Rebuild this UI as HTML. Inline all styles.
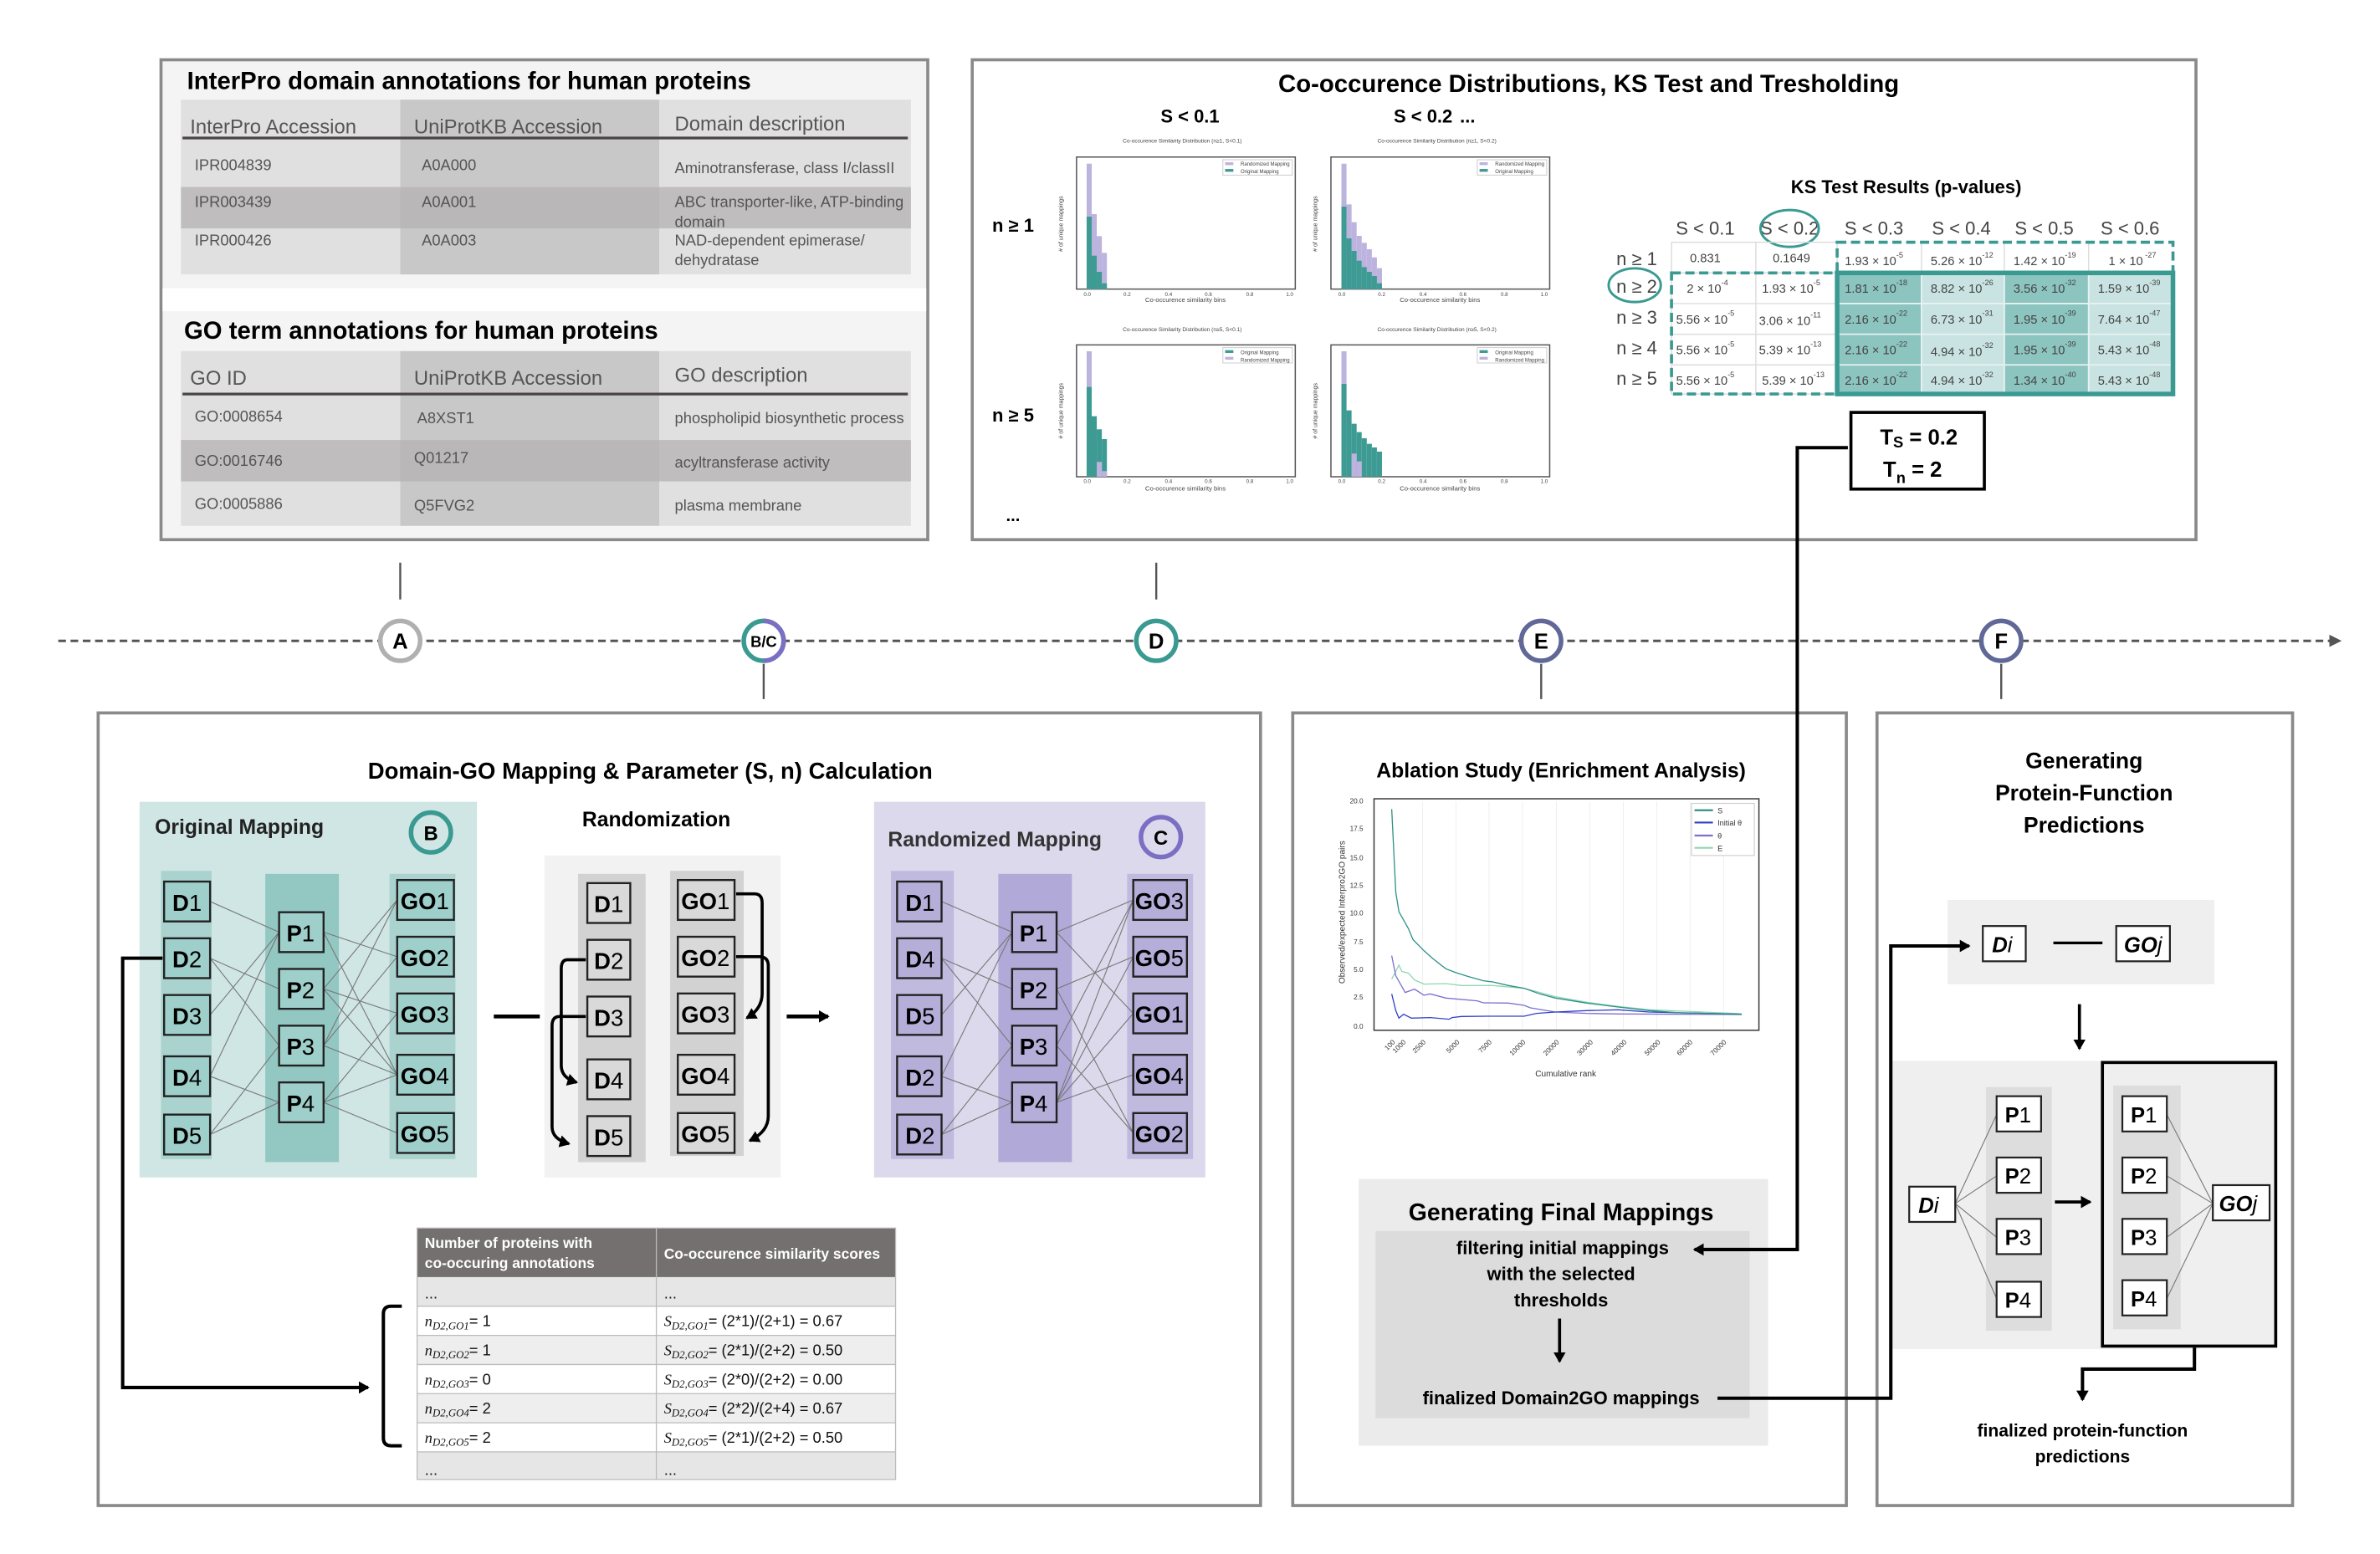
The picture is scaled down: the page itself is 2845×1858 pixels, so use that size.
<!DOCTYPE html>
<html><head><meta charset="utf-8"><style>
html,body{margin:0;padding:0;background:#fff;}
svg{display:block;}
text{font-family:"Liberation Sans",sans-serif;}
.b{font-weight:bold;}
.dv{font-family:"DejaVu Sans","Liberation Sans",sans-serif;}
</style></head><body>
<svg width="2845" height="1858" viewBox="0 0 1552 1013.6" preserveAspectRatio="none" xmlns="http://www.w3.org/2000/svg">
<defs>
<marker id="ah" markerWidth="8" markerHeight="8" refX="6" refY="4" orient="auto" markerUnits="userSpaceOnUse"><path d="M0,0 L7,4 L0,8 Z" fill="#000"/></marker>
</defs>
<rect width="1552" height="1014" fill="#fff"/>

<!-- ===== Panel A ===== -->
<rect x="105" y="39" width="500" height="313" fill="#f4f4f4" stroke="#8a8a8a" stroke-width="2"/>
<rect x="106" y="188" width="498" height="15" fill="#fff"/>
<text x="122" y="58" font-size="16" class="b">InterPro domain annotations for human proteins</text>
<rect x="118" y="65" width="143" height="114" fill="#e0e0e0"/>
<rect x="261" y="65" width="169" height="114" fill="#c9c8c9"/>
<rect x="430" y="65" width="164" height="114" fill="#e0e0e0"/>
<rect x="118" y="122" width="476" height="27" fill="#b4b2b2" opacity="0.75"/>
<line x1="119" y1="90" x2="592" y2="90" stroke="#4a4444" stroke-width="1.8"/>
<g fill="#555" font-size="13">
<text x="124" y="87">InterPro Accession</text><text x="270" y="87">UniProtKB Accession</text><text x="440" y="85">Domain description</text></g>
<g fill="#555" font-size="10">
<text x="127" y="111">IPR004839</text><text x="275" y="111">A0A000</text><text x="440" y="113">Aminotransferase, class I/classII</text>
<text x="127" y="135">IPR003439</text><text x="275" y="135">A0A001</text><text x="440" y="135">ABC transporter-like, ATP-binding</text><text x="440" y="148">domain</text>
<text x="127" y="160">IPR000426</text><text x="275" y="160">A0A003</text><text x="440" y="160">NAD-dependent epimerase/</text><text x="440" y="173">dehydratase</text></g>

<text x="120" y="221" font-size="16" class="b">GO term annotations for human proteins</text>
<rect x="118" y="229" width="143" height="114" fill="#e0e0e0"/>
<rect x="261" y="229" width="169" height="114" fill="#c9c8c9"/>
<rect x="430" y="229" width="164" height="114" fill="#e0e0e0"/>
<rect x="118" y="287" width="476" height="27" fill="#b4b2b2" opacity="0.75"/>
<line x1="119" y1="257" x2="592" y2="257" stroke="#4a4444" stroke-width="1.8"/>
<g fill="#555" font-size="13">
<text x="124" y="251">GO ID</text><text x="270" y="251">UniProtKB Accession</text><text x="440" y="249">GO description</text></g>
<g fill="#555" font-size="10">
<text x="127" y="275">GO:0008654</text><text x="272" y="276">A8XST1</text><text x="440" y="276">phospholipid biosynthetic process</text>
<text x="127" y="304">GO:0016746</text><text x="270" y="302">Q01217</text><text x="440" y="305">acyltransferase activity</text>
<text x="127" y="332">GO:0005886</text><text x="270" y="333">Q5FVG2</text><text x="440" y="333">plasma membrane</text></g>

<!-- ===== Panel D ===== -->
<rect x="634" y="39" width="798" height="313" fill="#fff" stroke="#8a8a8a" stroke-width="2"/>
<text x="1036" y="60" font-size="16" class="b" text-anchor="middle">Co-occurence Distributions, KS Test and Tresholding</text>
<text x="776" y="80" font-size="12" class="b" text-anchor="middle">S &lt; 0.1</text>
<text x="928" y="80" font-size="12" class="b" text-anchor="middle">S &lt; 0.2</text>
<text x="957" y="80" font-size="12" class="b" text-anchor="middle">...</text>
<text x="647" y="151" font-size="12" class="b">n ≥ 1</text>
<text x="647" y="275" font-size="12" class="b">n ≥ 5</text>
<text x="656" y="340" font-size="11" class="b">...</text>

<g transform="translate(644,65.5) scale(0.2447,0.1818)">
 <g fill="#fff" stroke="#555" stroke-width="1.5">
 <rect x="237" y="203" width="583" height="474" vector-effect="non-scaling-stroke"/>
 <rect x="915" y="203" width="583" height="474" vector-effect="non-scaling-stroke"/>
 <rect x="237" y="877" width="583" height="473" vector-effect="non-scaling-stroke"/>
 <rect x="915" y="877" width="583" height="473" vector-effect="non-scaling-stroke"/></g>
 <g fill="#bcb3de"><rect x="264" y="227" width="13.5" height="450"/><rect x="277.5" y="408" width="13.5" height="269"/><rect x="291" y="487" width="13.5" height="190"/><rect x="304.5" y="547" width="13.5" height="130"/></g>
 <g fill="#3e9b94"><rect x="264" y="417" width="13.5" height="260"/><rect x="277.5" y="557" width="13.5" height="120"/><rect x="291" y="615" width="13.5" height="62"/><rect x="304.5" y="656" width="13.5" height="21"/></g>
 <g fill="#bcb3de"><rect x="943" y="227" width="13.5" height="450"/><rect x="956.5" y="373" width="13.5" height="304"/><rect x="970" y="437" width="13.5" height="240"/><rect x="983.5" y="486" width="13.5" height="191"/><rect x="997" y="511" width="13.5" height="166"/><rect x="1010.5" y="534" width="13.5" height="143"/><rect x="1024" y="563" width="13.5" height="114"/><rect x="1037.5" y="602" width="13.5" height="75"/></g>
 <g fill="#3e9b94"><rect x="943" y="381" width="13.5" height="296"/><rect x="956.5" y="495" width="13.5" height="182"/><rect x="970" y="540" width="13.5" height="137"/><rect x="983.5" y="575" width="13.5" height="102"/><rect x="997" y="598" width="13.5" height="79"/><rect x="1010.5" y="615" width="13.5" height="62"/><rect x="1024" y="630" width="13.5" height="47"/><rect x="1037.5" y="656" width="13.5" height="21"/></g>
 <rect x="264" y="900" width="13.5" height="450" fill="#bcb3de"/>
 <g fill="#3e9b94"><rect x="264" y="1028" width="13.5" height="322"/><rect x="277.5" y="1133" width="13.5" height="217"/><rect x="291" y="1180" width="13.5" height="170"/><rect x="304.5" y="1215" width="13.5" height="135"/></g>
 <g fill="#bcb3de"><rect x="291" y="1297" width="13.5" height="53"/><rect x="304.5" y="1330" width="13.5" height="20"/></g>
 <rect x="943" y="900" width="13.5" height="450" fill="#bcb3de"/>
 <g fill="#3e9b94"><rect x="943" y="1017" width="13.5" height="333"/><rect x="956.5" y="1112" width="13.5" height="238"/><rect x="970" y="1160" width="13.5" height="190"/><rect x="983.5" y="1190" width="13.5" height="160"/><rect x="997" y="1212" width="13.5" height="138"/><rect x="1010.5" y="1232" width="13.5" height="118"/><rect x="1024" y="1245" width="13.5" height="105"/><rect x="1037.5" y="1260" width="13.5" height="90"/></g>
 <g fill="#bcb3de"><rect x="970" y="1267" width="13.5" height="83"/><rect x="983.5" y="1295" width="13.5" height="55"/></g>
 <g fill="#fff" stroke="#ccc" stroke-width="1">
 <rect x="627" y="213" width="185" height="55" vector-effect="non-scaling-stroke"/><rect x="1305" y="213" width="185" height="55" vector-effect="non-scaling-stroke"/>
 <rect x="627" y="887" width="185" height="55" vector-effect="non-scaling-stroke"/><rect x="1305" y="887" width="185" height="55" vector-effect="non-scaling-stroke"/></g>
 <g><rect x="633" y="222" width="22" height="10" fill="#bcb3de"/><rect x="633" y="246" width="22" height="10" fill="#3e9b94"/>
 <rect x="1311" y="222" width="22" height="10" fill="#bcb3de"/><rect x="1311" y="246" width="22" height="10" fill="#3e9b94"/>
 <rect x="633" y="896" width="22" height="10" fill="#3e9b94"/><rect x="633" y="920" width="22" height="10" fill="#bcb3de"/>
 <rect x="1311" y="896" width="22" height="10" fill="#3e9b94"/><rect x="1311" y="920" width="22" height="10" fill="#bcb3de"/></g>
</g>
<g font-size="3.6" fill="#444" text-anchor="middle">
<text x="771" y="93">Co-occurence Similarity Distribution (n≥1, S&lt;0.1)</text>
<text x="937" y="93">Co-occurence Similarity Distribution (n≥1, S&lt;0.2)</text>
<text x="771" y="216">Co-occurence Similarity Distribution (n≥5, S&lt;0.1)</text>
<text x="937" y="216">Co-occurence Similarity Distribution (n≥5, S&lt;0.2)</text>
<text x="773" y="197" font-size="4.2">Co-occurence similarity bins</text>
<text x="939" y="197" font-size="4.2">Co-occurence similarity bins</text>
<text x="773" y="320" font-size="4.2">Co-occurence similarity bins</text>
<text x="939" y="320" font-size="4.2">Co-occurence similarity bins</text>
<g font-size="3.4">
<text x="709" y="193">0.0</text><text x="735" y="193">0.2</text><text x="762" y="193">0.4</text><text x="788" y="193">0.6</text><text x="815" y="193">0.8</text><text x="841" y="193">1.0</text>
<text x="875" y="193">0.0</text><text x="901" y="193">0.2</text><text x="928" y="193">0.4</text><text x="954" y="193">0.6</text><text x="981" y="193">0.8</text><text x="1007" y="193">1.0</text>
<text x="709" y="315">0.0</text><text x="735" y="315">0.2</text><text x="762" y="315">0.4</text><text x="788" y="315">0.6</text><text x="815" y="315">0.8</text><text x="841" y="315">1.0</text>
<text x="875" y="315">0.0</text><text x="901" y="315">0.2</text><text x="928" y="315">0.4</text><text x="954" y="315">0.6</text><text x="981" y="315">0.8</text><text x="1007" y="315">1.0</text></g>
</g>
<g font-size="3.3" fill="#444">
<text x="809" y="108">Randomized Mapping</text><text x="809" y="113">Original Mapping</text>
<text x="975" y="108">Randomized Mapping</text><text x="975" y="113">Original Mapping</text>
<text x="809" y="231">Original Mapping</text><text x="809" y="236">Randomized Mapping</text>
<text x="975" y="231">Original Mapping</text><text x="975" y="236">Randomized Mapping</text></g>
<g font-size="3.8" fill="#444">
<text transform="translate(693,146) rotate(-90)" text-anchor="middle"># of unique mappings</text>
<text transform="translate(859,146) rotate(-90)" text-anchor="middle"># of unique mappings</text>
<text transform="translate(693,268) rotate(-90)" text-anchor="middle"># of unique mappings</text>
<text transform="translate(859,268) rotate(-90)" text-anchor="middle"># of unique mappings</text></g>

<!-- KS table -->
<text x="1243" y="126" font-size="12" class="b" text-anchor="middle">KS Test Results (p-values)</text>
<g font-size="12" fill="#444" text-anchor="middle">
<text x="1112" y="153">S &lt; 0.1</text><text x="1167" y="153">S &lt; 0.2</text><text x="1222" y="153">S &lt; 0.3</text><text x="1279" y="153">S &lt; 0.4</text><text x="1333" y="153">S &lt; 0.5</text><text x="1389" y="153">S &lt; 0.6</text></g>
<g font-size="12" fill="#444">
<text x="1054" y="173">n ≥ 1</text><text x="1054" y="191">n ≥ 2</text><text x="1054" y="211">n ≥ 3</text><text x="1054" y="231">n ≥ 4</text><text x="1054" y="251">n ≥ 5</text></g>
<ellipse cx="1167" cy="149" rx="19" ry="12" fill="none" stroke="#3a9a92" stroke-width="1.6"/>
<ellipse cx="1066" cy="186" rx="17" ry="11" fill="none" stroke="#3a9a92" stroke-width="1.6"/>
<g stroke="#ddd" stroke-width="0.8" fill="none">
<rect x="1090" y="158" width="108" height="99"/>
<line x1="1145" y1="158" x2="1145" y2="257"/>
<line x1="1090" y1="178" x2="1198" y2="178"/><line x1="1090" y1="198" x2="1198" y2="198"/><line x1="1090" y1="218" x2="1198" y2="218"/><line x1="1090" y1="238" x2="1198" y2="238"/>
<line x1="1253" y1="158" x2="1253" y2="178"/><line x1="1307" y1="158" x2="1307" y2="178"/><line x1="1362" y1="158" x2="1362" y2="178"/></g>
<rect x="1198" y="178" width="55" height="79" fill="#8cc4bf"/>
<rect x="1253" y="178" width="54" height="79" fill="#c8e3e1"/>
<rect x="1307" y="178" width="55" height="79" fill="#8cc4bf"/>
<rect x="1362" y="178" width="55" height="79" fill="#c8e3e1"/>
<g stroke="#e8f2f1" stroke-width="1"><line x1="1198" y1="198" x2="1417" y2="198"/><line x1="1198" y1="218" x2="1417" y2="218"/><line x1="1198" y1="238" x2="1417" y2="238"/>
<line x1="1253" y1="178" x2="1253" y2="257"/><line x1="1307" y1="178" x2="1307" y2="257"/><line x1="1362" y1="178" x2="1362" y2="257"/></g>
<rect x="1198" y="178" width="219" height="79" fill="none" stroke="#3a9a92" stroke-width="3"/>
<rect x="1198" y="158" width="219" height="20" fill="none" stroke="#3a9a92" stroke-width="2" stroke-dasharray="6,3"/>
<rect x="1090" y="178" width="108" height="79" fill="none" stroke="#3a9a92" stroke-width="2" stroke-dasharray="6,3"/>
<g font-size="8" fill="#444">
<text x="1102" y="171">0.831</text><text x="1156" y="171">0.1649</text>
<text x="1203" y="173">1.93 × 10<tspan dy="-5" font-size="5">-5</tspan></text>
<text x="1259" y="173">5.26 × 10<tspan dy="-5" font-size="5">-12</tspan></text>
<text x="1313" y="173">1.42 × 10<tspan dy="-5" font-size="5">-19</tspan></text>
<text x="1375" y="173">1 × 10<tspan dy="-5" font-size="5">  -27</tspan></text>
<text x="1100" y="191">2 × 10<tspan dy="-5" font-size="5">-4</tspan></text>
<text x="1149" y="191">1.93 × 10<tspan dy="-5" font-size="5">-5</tspan></text>
<text x="1203" y="191">1.81 × 10<tspan dy="-5" font-size="5">-18</tspan></text>
<text x="1259" y="191">8.82 × 10<tspan dy="-5" font-size="5">-26</tspan></text>
<text x="1313" y="191">3.56 × 10<tspan dy="-5" font-size="5">-32</tspan></text>
<text x="1368" y="191">1.59 × 10<tspan dy="-5" font-size="5">-39</tspan></text>
<text x="1093" y="211">5.56 × 10<tspan dy="-5" font-size="5">-5</tspan></text>
<text x="1147" y="212">3.06 × 10<tspan dy="-5" font-size="5">-11</tspan></text>
<text x="1203" y="211">2.16 × 10<tspan dy="-5" font-size="5">-22</tspan></text>
<text x="1259" y="211">6.73 × 10<tspan dy="-5" font-size="5">-31</tspan></text>
<text x="1313" y="211">1.95 × 10<tspan dy="-5" font-size="5">-39</tspan></text>
<text x="1368" y="211">7.64 × 10<tspan dy="-5" font-size="5">-47</tspan></text>
<text x="1093" y="231">5.56 × 10<tspan dy="-5" font-size="5">-5</tspan></text>
<text x="1147" y="231">5.39 × 10<tspan dy="-5" font-size="5">-13</tspan></text>
<text x="1203" y="231">2.16 × 10<tspan dy="-5" font-size="5">-22</tspan></text>
<text x="1259" y="232">4.94 × 10<tspan dy="-5" font-size="5">-32</tspan></text>
<text x="1313" y="231">1.95 × 10<tspan dy="-5" font-size="5">-39</tspan></text>
<text x="1368" y="231">5.43 × 10<tspan dy="-5" font-size="5">-48</tspan></text>
<text x="1093" y="251">5.56 × 10<tspan dy="-5" font-size="5">-5</tspan></text>
<text x="1149" y="251">5.39 × 10<tspan dy="-5" font-size="5">-13</tspan></text>
<text x="1203" y="251">2.16 × 10<tspan dy="-5" font-size="5">-22</tspan></text>
<text x="1259" y="251">4.94 × 10<tspan dy="-5" font-size="5">-32</tspan></text>
<text x="1313" y="251">1.34 × 10<tspan dy="-5" font-size="5">-40</tspan></text>
<text x="1368" y="251">5.43 × 10<tspan dy="-5" font-size="5">-48</tspan></text></g>
<rect x="1207" y="269" width="87" height="50" fill="#fff" stroke="#000" stroke-width="2"/>
<text x="1226" y="290" font-size="14" class="b">T<tspan font-size="10" dy="2">S</tspan><tspan dy="-2"> = 0.2</tspan></text>
<text x="1228" y="311" font-size="14" class="b">T<tspan font-size="10" dy="4">n</tspan><tspan dy="-4"> = 2</tspan></text>

<!-- ===== Timeline ===== -->
<line x1="38" y1="418" x2="1520" y2="418" stroke="#555" stroke-width="1.6" stroke-dasharray="5,3"/>
<path d="M1519,414 L1527,418 L1519,422 Z" fill="#555"/>
<g stroke="#555" stroke-width="1.3">
<line x1="261" y1="367" x2="261" y2="391"/><line x1="754" y1="367" x2="754" y2="391"/>
<line x1="498" y1="433" x2="498" y2="456"/><line x1="1005" y1="433" x2="1005" y2="456"/><line x1="1305" y1="433" x2="1305" y2="456"/></g>
<g stroke-width="3" fill="#fff">
<circle cx="261" cy="418" r="13" stroke="#b0b0b0"/>
<circle cx="754" cy="418" r="13" stroke="#3a9a92"/>
<circle cx="1005" cy="418" r="13" stroke="#5f6897"/>
<circle cx="1305" cy="418" r="13" stroke="#5f6897"/>
<circle cx="498" cy="418" r="13" stroke="#3a9a92"/>
<path d="M498,405 A13,13 0 0 1 498,431" fill="none" stroke="#7b6fc4"/></g>
<g font-size="14" class="b" text-anchor="middle">
<text x="261" y="423">A</text><text x="754" y="423">D</text><text x="1005" y="423">E</text><text x="1305" y="423">F</text>
<text x="498" y="422" font-size="10">B/C</text></g>

<!-- ===== Panel B/C ===== -->
<rect x="64" y="465" width="758" height="517" fill="#fff" stroke="#8a8a8a" stroke-width="2"/>
<text x="424" y="508" font-size="15" class="b" text-anchor="middle">Domain-GO Mapping &amp; Parameter (S, n) Calculation</text>
<rect x="91" y="523" width="220" height="245" fill="#cfe6e4"/>
<rect x="105" y="568" width="33" height="188" fill="#aad3cf"/>
<rect x="173" y="570" width="48" height="188" fill="#93c7c2"/>
<rect x="254" y="570" width="43" height="186" fill="#aad3cf"/>
<text x="101" y="544" font-size="13.5" class="b" fill="#222">Original Mapping</text>
<circle cx="281" cy="543" r="13" fill="none" stroke="#3a9a92" stroke-width="3"/>
<text x="281" y="548" font-size="13" class="b" text-anchor="middle">B</text>
<g stroke="#777" stroke-width="0.6">
<line x1="137" y1="588" x2="182" y2="608"/><line x1="137" y1="625" x2="182" y2="645"/><line x1="137" y1="625" x2="182" y2="682"/>
<line x1="137" y1="662" x2="182" y2="608"/><line x1="137" y1="702" x2="182" y2="608"/><line x1="137" y1="702" x2="182" y2="719"/>
<line x1="137" y1="740" x2="182" y2="682"/><line x1="137" y1="740" x2="182" y2="719"/>
<line x1="211" y1="608" x2="259" y2="624"/><line x1="211" y1="608" x2="259" y2="701"/><line x1="211" y1="645" x2="259" y2="587"/>
<line x1="211" y1="645" x2="259" y2="661"/><line x1="211" y1="645" x2="259" y2="701"/><line x1="211" y1="682" x2="259" y2="587"/>
<line x1="211" y1="682" x2="259" y2="701"/><line x1="211" y1="682" x2="259" y2="624"/><line x1="211" y1="719" x2="259" y2="661"/>
<line x1="211" y1="719" x2="259" y2="701"/><line x1="211" y1="719" x2="259" y2="739"/></g>
<g fill="#9fcfca" stroke="#222" stroke-width="1.3">
<rect x="107" y="575" width="30" height="26"/><rect x="107" y="612" width="30" height="26"/><rect x="107" y="649" width="30" height="26"/><rect x="107" y="689" width="30" height="26"/><rect x="107" y="727" width="30" height="26"/>
<rect x="182" y="595" width="29" height="26"/><rect x="182" y="632" width="29" height="26"/><rect x="182" y="669" width="29" height="26"/><rect x="182" y="706" width="29" height="26"/>
<rect x="259" y="574" width="37" height="26"/><rect x="259" y="611" width="37" height="26"/><rect x="259" y="648" width="37" height="26"/><rect x="259" y="688" width="37" height="26"/><rect x="259" y="726" width="37" height="26"/></g>
<g font-size="15" class="b" text-anchor="middle">
<text x="122" y="594">D<tspan font-weight="normal">1</tspan></text><text x="122" y="631">D<tspan font-weight="normal">2</tspan></text><text x="122" y="668">D<tspan font-weight="normal">3</tspan></text><text x="122" y="708">D<tspan font-weight="normal">4</tspan></text><text x="122" y="746">D<tspan font-weight="normal">5</tspan></text>
<text x="196" y="614">P<tspan font-weight="normal">1</tspan></text><text x="196" y="651">P<tspan font-weight="normal">2</tspan></text><text x="196" y="688">P<tspan font-weight="normal">3</tspan></text><text x="196" y="725">P<tspan font-weight="normal">4</tspan></text>
<text x="277" y="593">GO<tspan font-weight="normal">1</tspan></text><text x="277" y="630">GO<tspan font-weight="normal">2</tspan></text><text x="277" y="667">GO<tspan font-weight="normal">3</tspan></text><text x="277" y="707">GO<tspan font-weight="normal">4</tspan></text><text x="277" y="745">GO<tspan font-weight="normal">5</tspan></text></g>

<text x="428" y="539" font-size="13.5" class="b" text-anchor="middle">Randomization</text>
<rect x="355" y="558" width="154" height="210" fill="#f2f2f2"/>
<rect x="377" y="570" width="44" height="188" fill="#d2d2d2"/>
<rect x="437" y="568" width="48" height="186" fill="#d2d2d2"/>
<g fill="#d9d9d9" stroke="#222" stroke-width="1.3">
<rect x="383" y="576" width="28" height="26"/><rect x="383" y="613" width="28" height="26"/><rect x="383" y="650" width="28" height="26"/><rect x="383" y="691" width="28" height="26"/><rect x="383" y="728" width="28" height="26"/>
<rect x="442" y="574" width="37" height="26"/><rect x="442" y="611" width="37" height="26"/><rect x="442" y="648" width="37" height="26"/><rect x="442" y="688" width="37" height="26"/><rect x="442" y="726" width="37" height="26"/></g>
<g font-size="15" class="b" text-anchor="middle">
<text x="397" y="595">D<tspan font-weight="normal">1</tspan></text><text x="397" y="632">D<tspan font-weight="normal">2</tspan></text><text x="397" y="669">D<tspan font-weight="normal">3</tspan></text><text x="397" y="710">D<tspan font-weight="normal">4</tspan></text><text x="397" y="747">D<tspan font-weight="normal">5</tspan></text>
<text x="460" y="593">GO<tspan font-weight="normal">1</tspan></text><text x="460" y="630">GO<tspan font-weight="normal">2</tspan></text><text x="460" y="667">GO<tspan font-weight="normal">3</tspan></text><text x="460" y="707">GO<tspan font-weight="normal">4</tspan></text><text x="460" y="745">GO<tspan font-weight="normal">5</tspan></text></g>
<g fill="none" stroke="#000" stroke-width="2">
<path d="M480,583 H492 Q497,583 497,589 V648 Q497,658 487,664" marker-end="url(#ah)"/>
<path d="M480,624 H495 Q501,624 501,630 V728 Q501,738 489,744" marker-end="url(#ah)"/>
<path d="M382,626 H370 Q366,626 366,632 V695 Q366,703 376,706" marker-end="url(#ah)"/>
<path d="M382,663 H365 Q360,663 360,669 V735 Q360,743 371,746" marker-end="url(#ah)"/></g>
<line x1="322" y1="663" x2="352" y2="663" stroke="#000" stroke-width="2.5"/>
<line x1="513" y1="663" x2="540" y2="663" stroke="#000" stroke-width="2.5" marker-end="url(#ah)"/>

<rect x="570" y="523" width="216" height="245" fill="#dcd9ec"/>
<rect x="581" y="568" width="41" height="188" fill="#c0bade"/>
<rect x="651" y="570" width="48" height="188" fill="#b1aad8"/>
<rect x="735" y="570" width="43" height="186" fill="#c0bade"/>
<text x="579" y="552" font-size="13.5" class="b" fill="#333">Randomized Mapping</text>
<circle cx="757" cy="546" r="13" fill="none" stroke="#7b6fc4" stroke-width="3"/>
<text x="757" y="551" font-size="13" class="b" text-anchor="middle">C</text>
<g stroke="#777" stroke-width="0.6">
<line x1="614" y1="588" x2="660" y2="608"/><line x1="614" y1="625" x2="660" y2="645"/><line x1="614" y1="625" x2="660" y2="682"/>
<line x1="614" y1="662" x2="660" y2="608"/><line x1="614" y1="702" x2="660" y2="608"/><line x1="614" y1="702" x2="660" y2="719"/>
<line x1="614" y1="740" x2="660" y2="682"/><line x1="614" y1="740" x2="660" y2="719"/>
<line x1="689" y1="608" x2="739" y2="587"/><line x1="689" y1="608" x2="739" y2="661"/><line x1="689" y1="645" x2="739" y2="624"/>
<line x1="689" y1="645" x2="739" y2="739"/><line x1="689" y1="682" x2="739" y2="739"/><line x1="689" y1="682" x2="739" y2="587"/>
<line x1="689" y1="719" x2="739" y2="701"/><line x1="689" y1="719" x2="739" y2="661"/><line x1="689" y1="719" x2="739" y2="624"/><line x1="689" y1="719" x2="739" y2="587"/></g>
<g fill="#b5aed9" stroke="#222" stroke-width="1.3">
<rect x="585" y="575" width="29" height="26"/><rect x="585" y="612" width="29" height="26"/><rect x="585" y="649" width="29" height="26"/><rect x="585" y="689" width="29" height="26"/><rect x="585" y="727" width="29" height="26"/>
<rect x="660" y="595" width="29" height="26"/><rect x="660" y="632" width="29" height="26"/><rect x="660" y="669" width="29" height="26"/><rect x="660" y="706" width="29" height="26"/>
<rect x="739" y="574" width="35" height="26"/><rect x="739" y="611" width="35" height="26"/><rect x="739" y="648" width="35" height="26"/><rect x="739" y="688" width="35" height="26"/><rect x="739" y="726" width="35" height="26"/></g>
<g font-size="15" class="b" text-anchor="middle">
<text x="600" y="594">D<tspan font-weight="normal">1</tspan></text><text x="600" y="631">D<tspan font-weight="normal">4</tspan></text><text x="600" y="668">D<tspan font-weight="normal">5</tspan></text><text x="600" y="708">D<tspan font-weight="normal">2</tspan></text><text x="600" y="746">D<tspan font-weight="normal">2</tspan></text>
<text x="674" y="614">P<tspan font-weight="normal">1</tspan></text><text x="674" y="651">P<tspan font-weight="normal">2</tspan></text><text x="674" y="688">P<tspan font-weight="normal">3</tspan></text><text x="674" y="725">P<tspan font-weight="normal">4</tspan></text>
<text x="756" y="593">GO<tspan font-weight="normal">3</tspan></text><text x="756" y="630">GO<tspan font-weight="normal">5</tspan></text><text x="756" y="667">GO<tspan font-weight="normal">1</tspan></text><text x="756" y="707">GO<tspan font-weight="normal">4</tspan></text><text x="756" y="745">GO<tspan font-weight="normal">2</tspan></text></g>

<rect x="272" y="801" width="312" height="32" fill="#757070"/>
<rect x="272" y="833" width="312" height="19" fill="#e6e6e6"/>
<rect x="272" y="852" width="312" height="19" fill="#fff"/>
<rect x="272" y="871" width="312" height="19" fill="#eeeeee"/>
<rect x="272" y="890" width="312" height="19" fill="#fff"/>
<rect x="272" y="909" width="312" height="19" fill="#eeeeee"/>
<rect x="272" y="928" width="312" height="19" fill="#fff"/>
<rect x="272" y="947" width="312" height="18" fill="#e6e6e6"/>
<g stroke="#bbb" stroke-width="0.7" fill="none">
<rect x="272" y="801" width="312" height="164"/><line x1="428" y1="801" x2="428" y2="965"/>
<line x1="272" y1="852" x2="584" y2="852"/><line x1="272" y1="871" x2="584" y2="871"/><line x1="272" y1="890" x2="584" y2="890"/><line x1="272" y1="909" x2="584" y2="909"/><line x1="272" y1="928" x2="584" y2="928"/><line x1="272" y1="947" x2="584" y2="947"/></g>
<g fill="#fff" font-size="9.5" class="b"><text x="277" y="814">Number of proteins with</text><text x="277" y="827">co-occuring annotations</text><text x="433" y="821">Co-occurence similarity scores</text></g>
<g font-size="10" fill="#111">
<text x="277" y="847">...</text><text x="433" y="847">...</text><text x="277" y="962">...</text><text x="433" y="962">...</text>
<text x="277" y="865"><tspan font-family="Liberation Serif" font-style="italic">n<tspan font-size="7" dy="2">D2,GO1</tspan></tspan><tspan dy="-2">= 1</tspan></text>
<text x="277" y="884"><tspan font-family="Liberation Serif" font-style="italic">n<tspan font-size="7" dy="2">D2,GO2</tspan></tspan><tspan dy="-2">= 1</tspan></text>
<text x="277" y="903"><tspan font-family="Liberation Serif" font-style="italic">n<tspan font-size="7" dy="2">D2,GO3</tspan></tspan><tspan dy="-2">= 0</tspan></text>
<text x="277" y="922"><tspan font-family="Liberation Serif" font-style="italic">n<tspan font-size="7" dy="2">D2,GO4</tspan></tspan><tspan dy="-2">= 2</tspan></text>
<text x="277" y="941"><tspan font-family="Liberation Serif" font-style="italic">n<tspan font-size="7" dy="2">D2,GO5</tspan></tspan><tspan dy="-2">= 2</tspan></text>
<text x="433" y="865"><tspan font-family="Liberation Serif" font-style="italic">S<tspan font-size="7" dy="2">D2,GO1</tspan></tspan><tspan dy="-2">= (2*1)/(2+1) = 0.67</tspan></text>
<text x="433" y="884"><tspan font-family="Liberation Serif" font-style="italic">S<tspan font-size="7" dy="2">D2,GO2</tspan></tspan><tspan dy="-2">= (2*1)/(2+2) = 0.50</tspan></text>
<text x="433" y="903"><tspan font-family="Liberation Serif" font-style="italic">S<tspan font-size="7" dy="2">D2,GO3</tspan></tspan><tspan dy="-2">= (2*0)/(2+2) = 0.00</tspan></text>
<text x="433" y="922"><tspan font-family="Liberation Serif" font-style="italic">S<tspan font-size="7" dy="2">D2,GO4</tspan></tspan><tspan dy="-2">= (2*2)/(2+4) = 0.67</tspan></text>
<text x="433" y="941"><tspan font-family="Liberation Serif" font-style="italic">S<tspan font-size="7" dy="2">D2,GO5</tspan></tspan><tspan dy="-2">= (2*1)/(2+2) = 0.50</tspan></text></g>
<path d="M262,852 H255 Q250,852 250,857 V938 Q250,943 255,943 H262" fill="none" stroke="#000" stroke-width="2.2"/>
<polyline points="106,625 80,625 80,905 240,905" fill="none" stroke="#000" stroke-width="2.2" marker-end="url(#ah)"/>

<!-- ===== Panel E ===== -->
<rect x="843" y="465" width="361" height="517" fill="#fff" stroke="#8a8a8a" stroke-width="2"/>
<text x="1018" y="507" font-size="13.5" class="b" text-anchor="middle">Ablation Study (Enrichment Analysis)</text>
<rect x="896" y="521" width="251" height="151" fill="#fff" stroke="#333" stroke-width="0.8"/>
<g transform="translate(851,480.1) scale(0.2041,0.1818)" fill="none" stroke-width="1.3">
<g stroke="#e4e4e4" stroke-width="0.6"><line x1="375" y1="235" x2="375" y2="1050" vector-effect="non-scaling-stroke"/><line x1="482" y1="235" x2="482" y2="1050" vector-effect="non-scaling-stroke"/><line x1="588" y1="235" x2="588" y2="1050" vector-effect="non-scaling-stroke"/><line x1="695" y1="235" x2="695" y2="1050" vector-effect="non-scaling-stroke"/><line x1="803" y1="235" x2="803" y2="1050" vector-effect="non-scaling-stroke"/><line x1="910" y1="235" x2="910" y2="1050" vector-effect="non-scaling-stroke"/><line x1="1017" y1="235" x2="1017" y2="1050" vector-effect="non-scaling-stroke"/><line x1="1124" y1="235" x2="1124" y2="1050" vector-effect="non-scaling-stroke"/><line x1="1230" y1="235" x2="1230" y2="1050" vector-effect="non-scaling-stroke"/><line x1="1337" y1="235" x2="1337" y2="1050" vector-effect="non-scaling-stroke"/></g>
<polyline vector-effect="non-scaling-stroke" stroke="#8fd6b2" points="277,872 300,822 310,845 330,850 350,875 380,890 450,888 500,895 600,895 700,905 800,935 900,955 1000,970 1100,982 1395,996"/>
<polyline vector-effect="non-scaling-stroke" stroke="#7b6fcc" points="277,788 290,860 310,900 320,920 350,908 380,930 400,925 450,940 550,950 570,957 650,958 700,966 720,975 800,990 900,995 1000,997 1395,999"/>
<polyline vector-effect="non-scaling-stroke" stroke="#3040c8" points="277,925 290,985 300,1012 315,998 340,1012 400,1010 460,1016 470,1010 500,1006 600,1005 700,1005 740,995 800,990 900,985 1000,982 1100,990 1395,998"/>
<polyline vector-effect="non-scaling-stroke" stroke="#2f8f86" points="277,262 290,560 300,630 330,690 345,730 380,770 410,800 450,835 480,848 520,862 570,878 600,882 650,895 700,905 750,925 800,940 900,958 1000,972 1100,985 1200,993 1395,998"/>
</g>
<rect x="1103" y="524" width="41" height="34" fill="#fff" stroke="#ccc" stroke-width="0.6"/>
<g stroke-width="1.2"><line x1="1105" y1="528.5" x2="1117" y2="528.5" stroke="#2f8f86"/><line x1="1105" y1="536.5" x2="1117" y2="536.5" stroke="#3040c8"/><line x1="1105" y1="545" x2="1117" y2="545" stroke="#7b6fcc"/><line x1="1105" y1="553" x2="1117" y2="553" stroke="#8fd6b2"/></g>
<g font-size="5" fill="#333"><text x="1120" y="530.5">S</text><text x="1120" y="538.5">Initial θ</text><text x="1120" y="547">θ</text><text x="1120" y="555">E</text></g>
<g font-size="4.5" fill="#333" text-anchor="end">
<text x="889" y="524">20.0</text><text x="889" y="542">17.5</text><text x="889" y="561">15.0</text><text x="889" y="579">12.5</text><text x="889" y="597">10.0</text><text x="889" y="616">7.5</text><text x="889" y="634">5.0</text><text x="889" y="652">2.5</text><text x="889" y="671">0.0</text></g>
<g font-size="4.5" fill="#333" text-anchor="end">
<text transform="translate(910,680) rotate(-45)">100</text><text transform="translate(917,680) rotate(-45)">1000</text><text transform="translate(930,680) rotate(-45)">2500</text><text transform="translate(952,680) rotate(-45)">5000</text><text transform="translate(973,680) rotate(-45)">7500</text><text transform="translate(995,680) rotate(-45)">10000</text><text transform="translate(1017,680) rotate(-45)">20000</text><text transform="translate(1039,680) rotate(-45)">30000</text><text transform="translate(1061,680) rotate(-45)">40000</text><text transform="translate(1083,680) rotate(-45)">50000</text><text transform="translate(1104,680) rotate(-45)">60000</text><text transform="translate(1126,680) rotate(-45)">70000</text></g>
<text x="1021" y="702" font-size="5.5" fill="#333" text-anchor="middle">Cumulative rank</text>
<text transform="translate(877,595) rotate(-90)" font-size="5.5" fill="#333" text-anchor="middle">Observed/expected Interpro2GO pairs</text>

<rect x="886" y="769" width="267" height="174" fill="#ebebeb"/>
<rect x="897" y="803" width="244" height="122" fill="#dddcdc"/>
<text x="1018" y="796" font-size="15.5" class="b" text-anchor="middle">Generating Final Mappings</text>
<g font-size="12" class="b" text-anchor="middle">
<text x="1019" y="818">filtering initial mappings</text><text x="1018" y="835">with the selected</text><text x="1018" y="852">thresholds</text>
<text x="1018" y="916">finalized Domain2GO mappings</text></g>
<line x1="1017" y1="860" x2="1017" y2="888" stroke="#000" stroke-width="2" marker-end="url(#ah)"/>

<!-- ===== Panel F ===== -->
<rect x="1224" y="465" width="271" height="517" fill="#fff" stroke="#8a8a8a" stroke-width="2"/>
<g font-size="14.5" class="b dv" text-anchor="middle">
<text x="1359" y="501">Generating</text><text x="1359" y="522">Protein-Function</text><text x="1359" y="543">Predictions</text></g>
<rect x="1270" y="587" width="174" height="55" fill="#efefef"/>
<rect x="1293" y="604" width="28" height="23" fill="#fff" stroke="#222" stroke-width="1.2"/>
<rect x="1380" y="604" width="35" height="23" fill="#fff" stroke="#222" stroke-width="1.2"/>
<line x1="1339" y1="615" x2="1371" y2="615" stroke="#000" stroke-width="1.8"/>
<g font-size="14" class="b dv" font-style="italic"><text x="1299" y="621">D<tspan font-weight="normal">i</tspan></text><text x="1385" y="621">GO<tspan font-weight="normal">j</tspan></text></g>
<line x1="1356" y1="655" x2="1356" y2="684" stroke="#000" stroke-width="2" marker-end="url(#ah)"/>
<rect x="1234" y="692" width="200" height="188" fill="#efefef"/>
<rect x="1371" y="693" width="113" height="185" fill="#efefef" stroke="#000" stroke-width="2"/>
<rect x="1295" y="709" width="43" height="159" fill="#dedddd"/>
<rect x="1378" y="708" width="44" height="159" fill="#dedddd"/>
<g stroke="#777" stroke-width="0.6">
<line x1="1275" y1="785" x2="1302" y2="727"/><line x1="1275" y1="785" x2="1302" y2="767"/><line x1="1275" y1="785" x2="1302" y2="807"/><line x1="1275" y1="785" x2="1302" y2="847"/>
<line x1="1443" y1="785" x2="1413" y2="727"/><line x1="1443" y1="785" x2="1413" y2="767"/><line x1="1443" y1="785" x2="1413" y2="807"/><line x1="1443" y1="785" x2="1413" y2="847"/></g>
<g fill="#fff" stroke="#222" stroke-width="1.2">
<rect x="1302" y="715" width="29" height="23"/><rect x="1302" y="755" width="29" height="23"/><rect x="1302" y="795" width="29" height="23"/><rect x="1302" y="836" width="29" height="23"/>
<rect x="1384" y="715" width="29" height="23"/><rect x="1384" y="755" width="29" height="23"/><rect x="1384" y="795" width="29" height="23"/><rect x="1384" y="835" width="29" height="23"/>
<rect x="1245" y="774" width="30" height="23"/><rect x="1443" y="773" width="37" height="23"/></g>
<g font-size="14" class="dv" text-anchor="middle">
<text x="1316" y="732"><tspan font-weight="bold">P</tspan>1</text><text x="1316" y="772"><tspan font-weight="bold">P</tspan>2</text><text x="1316" y="812"><tspan font-weight="bold">P</tspan>3</text><text x="1316" y="853"><tspan font-weight="bold">P</tspan>4</text>
<text x="1398" y="732"><tspan font-weight="bold">P</tspan>1</text><text x="1398" y="772"><tspan font-weight="bold">P</tspan>2</text><text x="1398" y="812"><tspan font-weight="bold">P</tspan>3</text><text x="1398" y="852"><tspan font-weight="bold">P</tspan>4</text></g>
<g font-size="14" class="b dv" font-style="italic"><text x="1251" y="791">D<tspan font-weight="normal">i</tspan></text><text x="1447" y="790">GO<tspan font-weight="normal">j</tspan></text></g>
<line x1="1340" y1="784" x2="1363" y2="784" stroke="#000" stroke-width="2" marker-end="url(#ah)"/>
<polyline points="1431,879 1431,893 1358,893 1358,913" fill="none" stroke="#000" stroke-width="2.2" marker-end="url(#ah)"/>
<g font-size="11.5" class="b dv" text-anchor="middle"><text x="1358" y="937">finalized protein-function</text><text x="1358" y="954">predictions</text></g>

<!-- ===== long connectors drawn on top ===== -->
<polyline points="1205,292 1172,292 1172,815 1105,815" fill="none" stroke="#000" stroke-width="2.2" marker-end="url(#ah)"/>
<polyline points="1120,912 1233,912 1233,617 1284,617" fill="none" stroke="#000" stroke-width="2.2" marker-end="url(#ah)"/>
</svg>
</body></html>
